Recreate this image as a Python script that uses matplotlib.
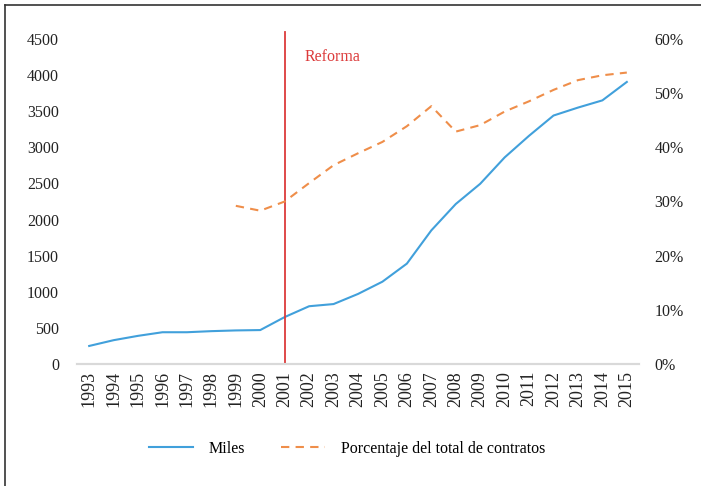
import numpy as np
import matplotlib
matplotlib.use("Agg")
import matplotlib.pyplot as plt
from matplotlib.lines import Line2D

plt.rcParams['font.family'] = ['Liberation Serif', 'DejaVu Serif']

# datos
anios = [str(a) for a in range(1993, 2016)]
miles = [250, 330, 390, 440, 440, 455, 465, 470, 650, 800, 830, 970, 1140, 1390,
         1850, 2215, 2495, 2860, 3160, 3440, 3550, 3650, 3905]
anios_pct = [str(a) for a in range(1999, 2016)]
porcentaje = [29.2, 28.3, 30.0, 33.4, 36.7, 38.9, 41.0, 43.9, 47.6, 42.9, 44.1,
              46.6, 48.5, 50.6, 52.4, 53.3, 53.8]
left_ticks = list(range(0, 5000, 500))
right_ticks = list(range(0, 70, 10))

azul = '#41a0db'
naranja = '#ef8e4a'
rojo = '#dc3b3b'

fig = plt.figure(figsize=(7.01, 4.86), dpi=100)
ax = fig.add_axes([0.1098, 0.251, 0.8018, 0.6688])
ax2 = ax.twinx()

x = np.arange(len(anios))
x_pct = np.array([anios.index(a) for a in anios_pct])

ax.plot(x, miles, color=azul, lw=1.5)
ax2.plot(x_pct, porcentaje, color=naranja, lw=1.5, dashes=(4, 3))

ax.set_xlim(-0.5, len(anios) - 0.5)
ax.set_ylim(0, 4500)
ax2.set_ylim(0, 60)
ax.set_yticks(left_ticks)
ax.set_yticklabels([str(v) for v in left_ticks], fontsize=11.5)
ax2.set_yticks(right_ticks)
ax2.set_yticklabels(['%d%%' % v for v in right_ticks], fontsize=11.5)
ax.set_xticks(x)
ax.set_xticklabels(anios, rotation=90, fontsize=13)

for a in (ax, ax2):
    for s in ('top', 'left', 'right'):
        a.spines[s].set_visible(False)
    a.spines['bottom'].set_color('#d9d9d9')
    a.spines['bottom'].set_linewidth(1.5)
    a.tick_params(length=0, colors='#222222')
ax.tick_params(axis='y', pad=13)
ax.tick_params(axis='x', pad=5)
ax2.tick_params(axis='y', pad=11)

# linea de la reforma
i_ref = anios.index('2001')
ax.axvline(i_ref, ymin=0, ymax=1.022, color=rojo, lw=1.3, clip_on=False)
ax.text(i_ref + 0.8, 4250, 'Reforma', color=rojo, fontsize=11.5, va='center', ha='left')

handles = [Line2D([], [], color=azul, lw=1.5),
           Line2D([], [], color=naranja, lw=1.5, dashes=(4, 3))]
fig.legend(handles, ['Miles', 'Porcentaje del total de contratos'],
           loc='center', bbox_to_anchor=(0.495, 1 - 449 / 486), ncol=2,
           frameon=False, fontsize=11.5, handlelength=2.75, handletextpad=1.0,
           columnspacing=2.2)

# marco recortado (arriba e izquierda)
fig.add_artist(Line2D([5 / 701, 5 / 701], [0, 1 - 5 / 486], color='#333333', lw=1.2))
fig.add_artist(Line2D([5 / 701, 1], [1 - 5 / 486, 1 - 5 / 486], color='#333333', lw=1.2))

fig.savefig('out.png', dpi=100)
